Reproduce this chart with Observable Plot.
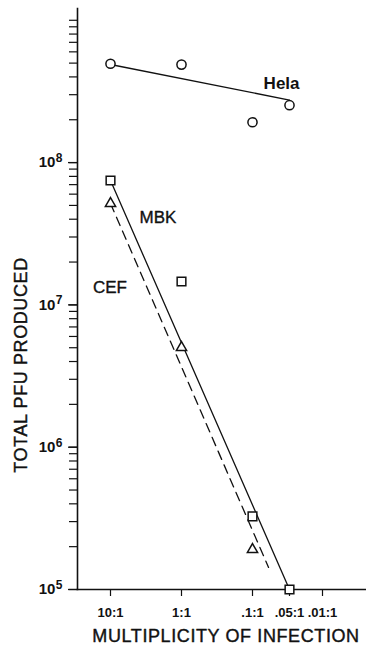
<!DOCTYPE html>
<html>
<head>
<meta charset="utf-8">
<script src="https://cdn.jsdelivr.net/npm/d3@7"></script>
<script src="https://cdn.jsdelivr.net/npm/@observablehq/plot@0.6"></script>
<style>
  html, body { margin: 0; padding: 0; background: #fff; }
  #chart svg { display: block; }
</style>
</head>
<body>
<div id="chart"></div>
<script>
// Multiplicity of infection (tick values and labels)
const moiTicks = [10, 1, 0.1, 0.05, 0.01];
const moiLabels = ["10:1", "1:1", ".1:1", ".05:1", ".01:1"];
const decadeTicks = [1e5, 1e6, 1e7, 1e8];

// Hela (circles)
const helaX = [10, 1, 0.1, 0.05];
const helaY = [4.95e8, 4.88e8, 1.92e8, 2.53e8];
const helaFitX = [10, 0.05];
const helaFitY = [4.89e8, 2.75e8];

// MBK (squares)
const mbkX = [10, 1, 0.1, 0.05];
const mbkY = [7.48e7, 1.46e7, 3.26e5, 1.0e5];
const mbkFitX = [10, 0.05];
const mbkFitY = [7.48e7, 1.0e5];

// CEF (triangles)
const cefX = [10, 1, 0.1];
const cefY = [5.16e7, 5.02e6, 1.91e5];
const cefFitX = [10, 0.074];
const cefFitY = [5.16e7, 1.43e5];

// Series labels
const seriesNames = ["Hela", "MBK", "CEF"];
const seriesLabelX = [0.058, 2.14, 10.2];
const seriesLabelY = [3.6e8, 4.11e7, 1.32e7];

const ink = "#111";
const moiLabel = d => {
  const i = moiTicks.findIndex(t => Math.abs(Math.log(t / d)) < 1e-6);
  return i < 0 ? "" : moiLabels[i];
};

const chart = Plot.plot({
  width: 366,
  height: 646,
  marginLeft: 77,
  marginRight: 0,
  marginTop: 8,
  marginBottom: 57,
  style: {fontFamily: "'Liberation Sans', Arial, sans-serif", color: ink, background: "#fff"},
  x: {
    type: "log",
    domain: [29.2, 10, 1, 0.1, 0.05, 0.01, 0.0024],
    range: [77, 110, 181, 252, 289, 322, 366],
    label: null
  },
  y: {
    type: "log",
    domain: [1e5, 1.21e9],
    label: null
  },
  marks: [
    // minor y ticks
    Plot.axisY({ticks: 40, tickSize: 8, text: null, strokeWidth: 1.2, label: null}),
    // major y ticks with labels (superscripts added below)
    Plot.axisY({
      ticks: decadeTicks,
      tickSize: 9,
      tickPadding: 6,
      strokeWidth: 1.3,
      tickFormat: d => "10^" + Math.round(Math.log10(d)),
      fontSize: 15,
      fontWeight: "bold",
      label: null,
      ariaLabel: "y-major"
    }),
    // x ticks
    Plot.axisX(moiTicks, {
      x: d => d,
      tickSize: 7,
      tickPadding: 11,
      strokeWidth: 1.2,
      text: null,
      label: null
    }),
    // x tick labels
    Plot.text(moiTicks, {
      x: d => d,
      frameAnchor: "bottom",
      text: moiLabel,
      dy: 18,
      lineAnchor: "top",
      fontSize: 13,
      fontWeight: "bold",
      fill: ink
    }),
    Plot.frame({anchor: "left", stroke: ink, strokeWidth: 1.6}),
    Plot.frame({anchor: "bottom", stroke: ink, strokeWidth: 1.6}),
    // fitted lines
    Plot.line(helaFitX, {x: helaFitX, y: helaFitY, stroke: ink, strokeWidth: 1.3}),
    Plot.line(mbkFitX, {x: mbkFitX, y: mbkFitY, stroke: ink, strokeWidth: 1.3}),
    Plot.line(cefFitX, {x: cefFitX, y: cefFitY, stroke: ink, strokeWidth: 1.3, strokeDasharray: "9,6"}),
    // observations
    Plot.dot(helaX, {x: helaX, y: helaY, symbol: "circle", r: 4.6, stroke: ink, fill: "white", strokeWidth: 1.5}),
    Plot.dot(mbkX, {x: mbkX, y: mbkY, symbol: "square", r: 4.9, stroke: ink, fill: "white", strokeWidth: 1.5}),
    Plot.dot(cefX, {x: cefX, y: cefY, symbol: "triangle", r: 3.8, stroke: ink, fill: "white", strokeWidth: 1.5}),
    // series labels
    Plot.text(seriesNames.slice(0, 1), {
      x: seriesLabelX.slice(0, 1), y: seriesLabelY.slice(0, 1), text: d => d,
      fontSize: 17, fontWeight: "bold", fill: ink, lineAnchor: "middle"
    }),
    Plot.text(seriesNames.slice(1), {
      x: seriesLabelX.slice(1), y: seriesLabelY.slice(1), text: d => d,
      fontSize: 17, fill: ink, stroke: ink, strokeWidth: 0.35, lineAnchor: "middle"
    }),
    // axis titles
    Plot.text(["TOTAL PFU PRODUCED"], {
      frameAnchor: "left", text: d => d, rotate: -90, dx: -56, dy: 66,
      fontSize: 18, fill: ink, stroke: ink, strokeWidth: 0.4, lineAnchor: "middle", textAnchor: "middle"
    }),
    Plot.text(["MULTIPLICITY OF INFECTION"], {
      frameAnchor: "bottom", text: d => d, dx: 4, dy: 47,
      fontSize: 18, fill: ink, stroke: ink, strokeWidth: 0.4, lineAnchor: "middle", textAnchor: "middle"
    })
  ]
});

// letter spacing on axis titles, superscript exponents on y labels
chart.querySelectorAll("text").forEach(t => {
  const s = t.textContent;
  if (s === "TOTAL PFU PRODUCED" || s === "MULTIPLICITY OF INFECTION") {
    t.setAttribute("letter-spacing", "0.6");
  }
  const m = /^10\^(\d+)$/.exec(s);
  if (m) {
    t.textContent = "10";
    const sup = document.createElementNS("http://www.w3.org/2000/svg", "tspan");
    sup.setAttribute("dy", "-5.5");
    sup.setAttribute("dx", "0.5");
    sup.setAttribute("font-size", "12");
    sup.textContent = m[1];
    t.appendChild(sup);
  }
});

document.getElementById("chart").appendChild(chart);
</script>
</body>
</html>
